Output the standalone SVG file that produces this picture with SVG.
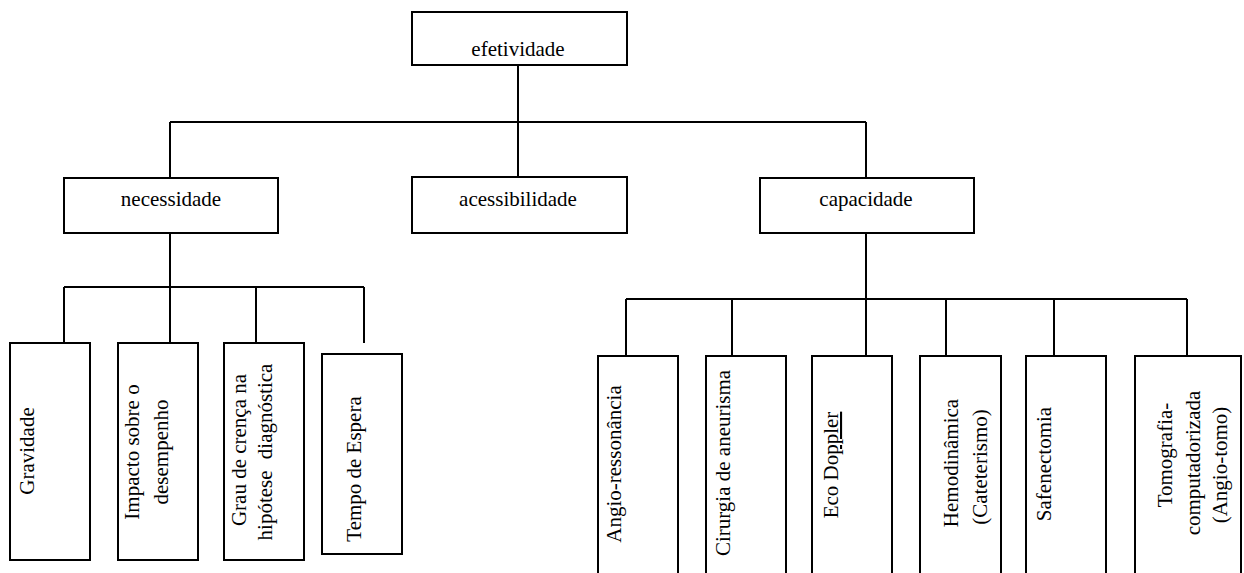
<svg xmlns="http://www.w3.org/2000/svg" width="1244" height="573" viewBox="0 0 1244 573">
  <style>
    .box { fill: #ffffff; stroke: #000000; stroke-width: 2; }
    .wire { fill: none; stroke: #000000; stroke-width: 2; }
    text { font-family: "Liberation Serif", "Times New Roman", serif; font-size: 21px; fill: #000000; text-anchor: middle; }
  </style>
  <rect width="1244" height="573" fill="#ffffff"/>

  <!-- connectors of the tree -->
  <g id="connectors" class="wire">
    <path d="M518 65 V122 M170 122 H866 M170 122 V178 M518 122 V177 M866 122 V178"/>
    <path d="M170 233 V287 M64 287 H364 M64 287 V343 M170 287 V343 M256 287 V353 M364 287 V343"/>
    <path d="M866 233 V299 M626 299 H1187 M626 299 V356 M732 299 V356 M866 299 V356 M946 299 V356 M1054 299 V356 M1187 299 V356"/>
  </g>

  <!-- top level -->
  <g id="efetividade">
    <rect class="box" x="412" y="12" width="215" height="53"/>
    <text x="518" y="56">efetividade</text>
  </g>

  <!-- second level -->
  <g id="necessidade">
    <rect class="box" x="64" y="178" width="214" height="55"/>
    <text x="171" y="206">necessidade</text>
  </g>
  <g id="acessibilidade">
    <rect class="box" x="412" y="177" width="215" height="56"/>
    <text x="518" y="206">acessibilidade</text>
  </g>
  <g id="capacidade">
    <rect class="box" x="760" y="178" width="214" height="55"/>
    <text x="866" y="206">capacidade</text>
  </g>

  <!-- criteria under necessidade (vertical labels) -->
  <g id="gravidade">
    <rect class="box" x="10" y="343" width="80" height="217"/>
    <text transform="translate(34 451) rotate(-90)">Gravidade</text>
  </g>
  <g id="impacto">
    <rect class="box" x="118" y="343" width="80" height="217"/>
    <text transform="translate(139 452) rotate(-90)">Impacto sobre o</text>
    <text transform="translate(168 452) rotate(-90)">desempenho</text>
  </g>
  <g id="grau-crenca">
    <rect class="box" x="224" y="343" width="80" height="217"/>
    <text transform="translate(246 450) rotate(-90)">Grau de crença na</text>
    <text transform="translate(272 452) rotate(-90)" word-spacing="6">hipótese diagnóstica</text>
  </g>
  <g id="tempo-espera">
    <rect class="box" x="322" y="354" width="80" height="200"/>
    <text transform="translate(361 469) rotate(-90)">Tempo de Espera</text>
  </g>

  <!-- procedures under capacidade (boxes run past the lower edge) -->
  <g id="angio-ressonancia">
    <rect class="box" x="598" y="356" width="80" height="240"/>
    <text transform="translate(621 464) rotate(-90)">Angio-ressonância</text>
  </g>
  <g id="cirurgia-aneurisma">
    <rect class="box" x="706" y="356" width="80" height="240"/>
    <text transform="translate(730 463) rotate(-90)">Cirurgia de aneurisma</text>
  </g>
  <g id="eco-doppler">
    <rect class="box" x="812" y="356" width="80" height="240"/>
    <text transform="translate(838 465) rotate(-90)">Eco Do<tspan text-decoration="underline">ppler</tspan></text>
  </g>
  <g id="hemodinamica">
    <rect class="box" x="920" y="356" width="81" height="240"/>
    <text transform="translate(958 463) rotate(-90)">Hemodinâmica</text>
    <text transform="translate(987 467) rotate(-90)">(Cateterismo)</text>
  </g>
  <g id="safenectomia">
    <rect class="box" x="1026" y="356" width="80" height="240"/>
    <text transform="translate(1051 464) rotate(-90)">Safenectomia</text>
  </g>
  <g id="tomografia">
    <rect class="box" x="1135" y="356" width="106" height="240"/>
    <text transform="translate(1172 455) rotate(-90)">Tomografia-</text>
    <text transform="translate(1200 463) rotate(-90)">computadorizada</text>
    <text transform="translate(1227 465) rotate(-90)">(Angio-tomo)</text>
  </g>
</svg>
